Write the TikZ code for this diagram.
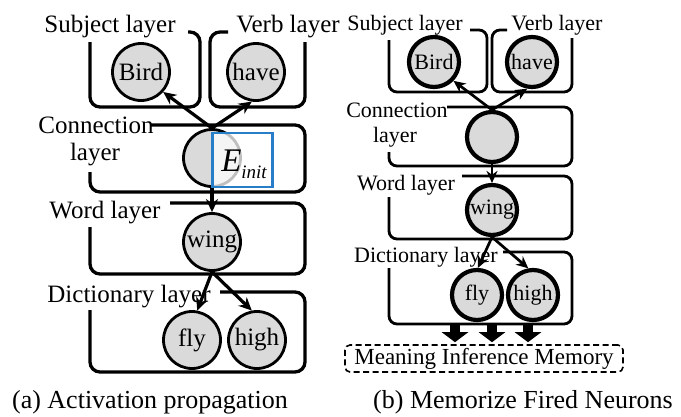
\documentclass[tikz,border=0pt]{standalone}
\usepackage{fontspec}
\setmainfont{Liberation Serif}
\usetikzlibrary{arrows.meta}
\definecolor{cellgray}{RGB}{218,218,218}
\definecolor{eblue}{RGB}{40,125,200}
\tikzset{
  txtA/.style={font=\fontsize{25}{28}\selectfont, inner sep=0pt},
  txtB/.style={font=\fontsize{22}{25}\selectfont, inner sep=0pt},
  capt/.style={font=\fontsize{26}{29}\selectfont, inner sep=0pt},
  neuronA/.style={circle, draw, fill=cellgray, line width=2.8pt, minimum size=57pt, inner sep=0pt, font=\fontsize{25}{28}\selectfont},
  neuronB/.style={circle, draw, fill=cellgray, line width=4.2pt, minimum size=50pt, inner sep=0pt, font=\fontsize{22}{25}\selectfont},
  layerA/.style={line width=3.3pt, rounded corners=10pt},
  layerB/.style={line width=2.8pt, rounded corners=8pt},
  linkA/.style={line width=3.2pt, -{Stealth[length=13pt,width=12pt]}},
  linkB/.style={line width=2.7pt, -{Stealth[length=12pt,width=11pt]}},
  fatarrow/.style={line width=10pt, -{Triangle[length=10pt,width=26pt]}},
}
\begin{document}
\begin{tikzpicture}[x=1pt,y=-1pt]
\useasboundingbox (0,0) rectangle (681,416);

% ---------- (a) Activation propagation ----------
% layer frames
\draw[layerA] (90,42) -- (90,107) -- (200,107) -- (200,32) -- (188,32);
\draw[layerA] (228,32) -- (210,32) -- (210,107) -- (305,107) -- (305,42);
\draw[layerA] (150,125) -- (305,125) -- (305,192) -- (90,192) -- (90,172);
\draw[layerA] (170,203) -- (305,203) -- (305,274) -- (90,274) -- (90,227);
\draw[layerA] (220,292) -- (305,292) -- (305,372) -- (90,372) -- (90,310);

% layer labels
\node[txtA] (subjA) at (110,27) {Subject layer};
\node[txtA] (verbA) at (288,27) {Verb layer};
\node[txtA] (connA1) at (96,125) {Connection};
\node[txtA] (connA2) at (95,155) {layer};
\node[txtA] (wordA) at (105,213) {Word layer};
\node[txtA] (dictA) at (129,297) {Dictionary layer};

% neurons
\node[neuronA] (birdA) at (141,72) {Bird};
\node[neuronA] (haveA) at (256,72) {have};
\node[neuronA] (cA) at (212,158) {};
\node[neuronA] (wingA) at (212,242) {wing};
\node[neuronA] (flyA) at (192,340) {fly};
\node[neuronA] (highA) at (257,340) {high};

% initial excitation box
\node[draw=eblue, line width=2.6pt, fill=white, fill opacity=0.75,
      minimum width=60pt, minimum height=54pt, inner sep=0pt] (eboxA) at (242.5,160) {};
\node[inner sep=0pt] (einitA) at (244,164)
  {{\fontsize{33}{33}\selectfont\itshape E}\raisebox{-7pt}{\fontsize{19}{19}\selectfont\itshape init}};

% propagation links
\draw[linkA] (cA.north) -- (birdA.-42);
\draw[linkA] (cA.north) -- (haveA.-98);
\draw[linkA] (cA.south) -- (wingA.north);
\draw[linkA] (wingA.south) -- (flyA.80);
\draw[linkA] (wingA.south) -- (highA.100);

\node[capt] (captA) at (150,402) {(a) Activation propagation};

% ---------- (b) Memorize fired neurons ----------
\draw[layerB] (389,40) -- (389,92) -- (487,92) -- (487,30) -- (470,30);
\draw[layerB] (507,30) -- (492,30) -- (492,92) -- (572,92) -- (572,38);
\draw[layerB] (447,107) -- (572,107) -- (572,166) -- (389,166) -- (389,152);
\draw[layerB] (462,176) -- (572,176) -- (572,239) -- (389,239) -- (389,197);
\draw[layerB] (503,252) -- (572,252) -- (572,324) -- (389,324) -- (389,268);

\node[txtB] (subjB) at (405,25) {Subject layer};
\node[txtB] (verbB) at (557,25) {Verb layer};
\node[txtB] (connB1) at (397,110) {Connection};
\node[txtB] (connB2) at (395,137) {layer};
\node[txtB] (wordB) at (406,185) {Word layer};
\node[txtB] (dictB) at (426,257) {Dictionary layer};

\node[neuronB] (birdB) at (434,62) {Bird};
\node[neuronB] (haveB) at (532,62) {have};
\node[neuronB] (cB) at (492,137) {};
\node[neuronB] (wingB) at (492,210) {wing};
\node[neuronB] (flyB) at (477,295) {fly};
\node[neuronB] (highB) at (533,295) {high};

\draw[linkB] (cB.north) -- (birdB.-44);
\draw[linkB] (cB.north) -- (haveB.-100);
\draw[linkB] (cB.south) -- (wingB.north);
\draw[linkB] (wingB.south) -- (flyB.88);
\draw[linkB] (wingB.south) -- (highB.100);

% memory store
\node[draw, dash pattern=on 6pt off 3.5pt, line width=1.6pt, rounded corners=5pt, minimum width=278pt,
      minimum height=27pt, inner sep=0pt, font=\fontsize{23}{26}\selectfont] (mem) at (484,358.5) {Meaning Inference Memory};

\coordinate (out1) at (455,324);
\coordinate (out2) at (492,324);
\coordinate (out3) at (528,324);
\draw[fatarrow] (out1) -- ([yshift=2pt]out1 |- mem.north);
\draw[fatarrow] (out2) -- ([yshift=2pt]out2 |- mem.north);
\draw[fatarrow] (out3) -- ([yshift=2pt]out3 |- mem.north);

\node[capt] (captB) at (523,402) {(b) Memorize Fired Neurons};
\end{tikzpicture}
\end{document}
